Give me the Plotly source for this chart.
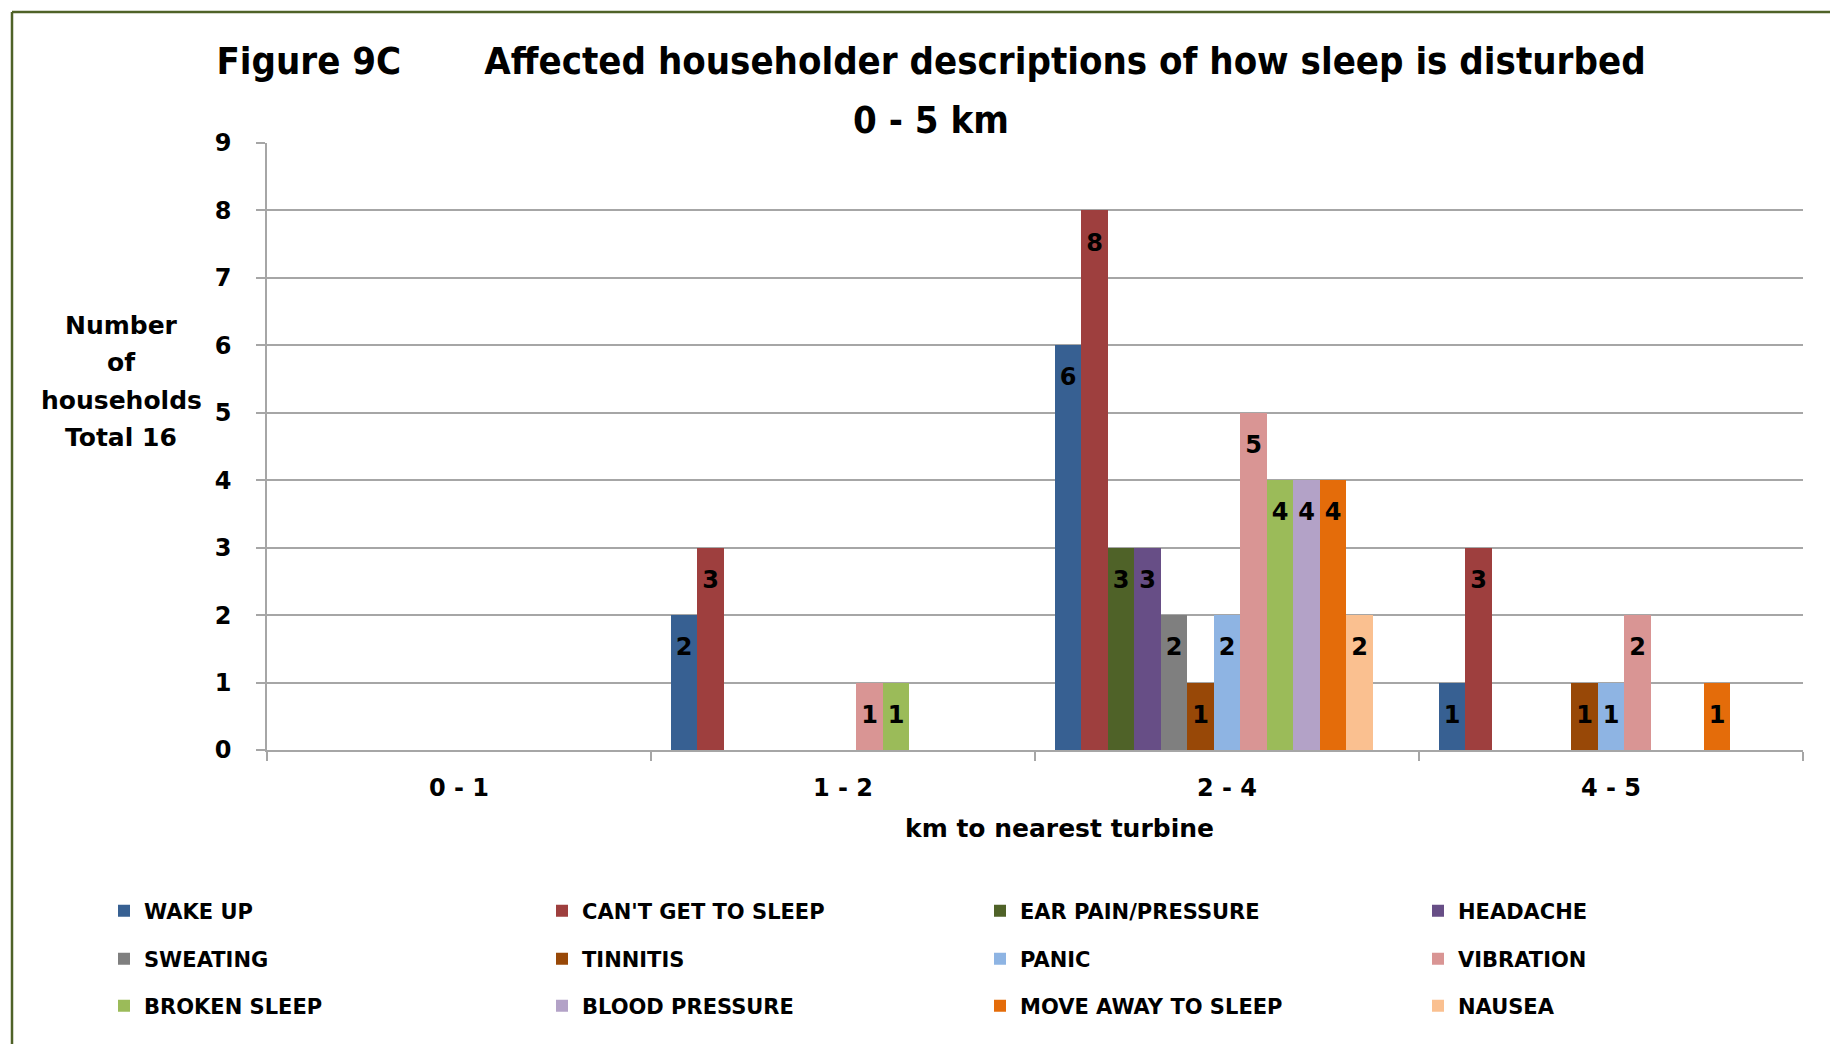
import plotly.graph_objects as go

# ---------------- data ----------------
categories = ["0 - 1", "1 - 2", "2 - 4", "4 - 5"]

series_names = ["WAKE UP", "CAN'T GET TO SLEEP", "EAR PAIN/PRESSURE", "HEADACHE",
                "SWEATING", "TINNITIS", "PANIC", "VIBRATION",
                "BROKEN SLEEP", "BLOOD PRESSURE", "MOVE AWAY TO SLEEP", "NAUSEA"]

wake_up = [0, 2, 6, 1]
cant_get_to_sleep = [0, 3, 8, 3]
ear_pain_pressure = [0, 0, 3, 0]
headache = [0, 0, 3, 0]
sweating = [0, 0, 2, 0]
tinnitis = [0, 0, 1, 1]
panic = [0, 0, 2, 1]
vibration = [0, 1, 5, 2]
broken_sleep = [0, 1, 4, 0]
blood_pressure = [0, 0, 4, 0]
move_away_to_sleep = [0, 0, 4, 1]
nausea = [0, 0, 2, 0]

series_values = [wake_up, cant_get_to_sleep, ear_pain_pressure, headache,
                 sweating, tinnitis, panic, vibration,
                 broken_sleep, blood_pressure, move_away_to_sleep, nausea]

series_colors = ["#376092", "#9E3F3E", "#4F6228", "#674E86",
                 "#7F7F7F", "#984807", "#8EB4E3", "#D99594",
                 "#9BBB59", "#B3A2C7", "#E46C0A", "#FAC090"]

y_ticks = list(range(0, 10))

# ---------------- layout constants ----------------
OFF = 8                      # page body margin
W, H = 1838 - 2 * OFF, 1052 - 2 * OFF
PL, PR, PT, PB = 267 - OFF, 1803 - OFF, 143 - OFF, 750 - OFF   # plot area (figure px)
ML, MR, MT, MB = PL, W - PR, PT, H - PB
PW, PH = PR - PL, PB - PT

BOLD = "DejaVu Sans"
TITLE_FONT = "Liberation Sans Narrow, DejaVu Sans Condensed, Open Sans"
GRID = "#A6A6A6"

n_slots = 13          # the source chart reserves 13 slots per group
bw = 1.0 / (n_slots + 1.5)
label_band = 0.95     # label centred ~half a unit below bar top


def cx(p):   # reference page px -> container fraction
    return (p - OFF) / W


def cy(p):
    return 1 - (p - OFF) / H


def px_x(p):  # reference page px -> paper fraction
    return (p - OFF - PL) / PW


def px_y(p):
    return (PB - (p - OFF)) / PH


fig = go.Figure()
legend_ids = ["legend", "legend2", "legend3"]

for i, (name, vals, col) in enumerate(zip(series_names, series_values, series_colors)):
    off = -0.5 + 0.75 * bw + i * bw
    fig.add_trace(go.Bar(
        x=categories, y=vals, name=name,
        marker=dict(color=col, line=dict(width=0)),
        width=bw, offset=off,
        legend=legend_ids[i // 4],
        legendwidth=393 if i % 4 < 3 else 130,
        hovertemplate=name + ": %{y}<extra></extra>",
    ))
for i, (name, vals) in enumerate(zip(series_names, series_values)):
    off = -0.5 + 0.75 * bw + i * bw
    fig.add_trace(go.Bar(
        x=categories,
        y=[label_band if v > 0 else None for v in vals],
        base=[v - label_band if v > 0 else None for v in vals],
        text=[str(v) if v > 0 else "" for v in vals],
        textposition="inside", insidetextanchor="middle",
        constraintext="none", cliponaxis=False,
        textfont=dict(family=BOLD, size=24, color="black", weight="bold"),
        marker=dict(color="rgba(0,0,0,0)", line=dict(width=0)),
        width=bw, offset=off, showlegend=False, hoverinfo="skip",
    ))

legend_common = dict(
    orientation="h", xref="container", yref="paper",
    xanchor="left", yanchor="middle", x=cx(104),
    font=dict(family=BOLD, size=21, color="black", weight="bold"),
    bgcolor="rgba(0,0,0,0)", traceorder="normal",
)

fig.update_layout(
    width=W, height=H,
    margin=dict(l=ML, r=MR, t=MT, b=MB, autoexpand=False),
    paper_bgcolor="white", plot_bgcolor="white",
    barmode="overlay", bargap=0,
    showlegend=True,
    legend=dict(legend_common, y=px_y(911)),
    legend2=dict(legend_common, y=px_y(959)),
    legend3=dict(legend_common, y=px_y(1006)),
    xaxis=dict(
        type="category", categoryorder="array", categoryarray=categories,
        range=[-0.5, 3.5],
        showline=True, linecolor=GRID, linewidth=1.5,
        ticks="outside", tickson="boundaries", ticklen=9, tickwidth=1.5, tickcolor=GRID,
        tickfont=dict(family=BOLD, size=24, color="black", weight="bold"),
        ticklabelstandoff=15,
        showgrid=False,
    ),
    yaxis=dict(
        range=[0, 9], tickvals=y_ticks,
        showline=True, linecolor=GRID, linewidth=1.5,
        ticks="outside", ticklen=9, tickwidth=1.5, tickcolor=GRID,
        tickfont=dict(family=BOLD, size=24, color="black", weight="bold"),
        ticklabelstandoff=20,
        showgrid=True, gridcolor=GRID, gridwidth=1.5, zeroline=False,
    ),
    title=dict(
        text="Figure 9C" + "\u00a0" * 7 + "Affected householder descriptions of how sleep is disturbed",
        xref="container", yref="container", x=cx(931), y=cy(61),
        xanchor="center", yanchor="middle",
        font=dict(family=TITLE_FONT, size=38, color="black", weight="bold"),
    ),
)

annos = [("0 - 5 km", 931, 120, 38, TITLE_FONT),
         ("km to nearest turbine", 1059, 828, 25, BOLD)]
for txt, py in [("Number", 325), ("of", 362), ("households", 400), ("Total 16", 437)]:
    annos.append((txt, 121, py, 25, BOLD))
for txt, ax, ay, size, fam in annos:
    fig.add_annotation(
        text=txt, xref="paper", yref="paper",
        x=px_x(ax), y=px_y(ay),
        xanchor="center", yanchor="middle", showarrow=False,
        font=dict(family=fam, size=size, color="black", weight="bold"),
    )

# chart area border (top and left edges visible in source)
border = "#4F6228"
fig.add_shape(type="line", xref="paper", yref="paper",
              x0=px_x(12), y0=px_y(12), x1=px_x(1838), y1=px_y(12),
              line=dict(color=border, width=2.5))
fig.add_shape(type="line", xref="paper", yref="paper",
              x0=px_x(12), y0=px_y(12), x1=px_x(12), y1=px_y(1052),
              line=dict(color=border, width=2.5))

fig.write_html("out.html")
